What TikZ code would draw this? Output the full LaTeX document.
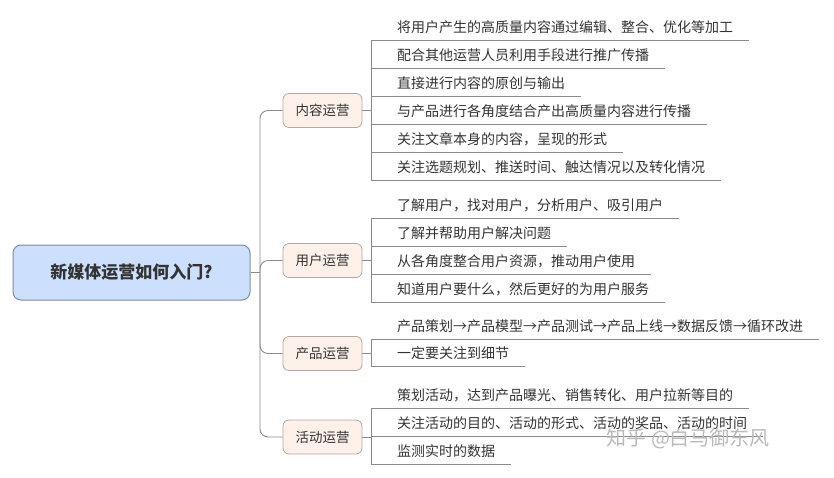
\documentclass[tikz,border=0pt]{standalone}
\usepackage{fontspec}
\setmainfont{Noto Sans CJK SC}
\usetikzlibrary{positioning, calc}
\definecolor{mmroot}{HTML}{CCDFFD}
\definecolor{mmrootline}{HTML}{7D8CA3}
\definecolor{mmbranch}{HTML}{FDF1EA}
\definecolor{mmbranchline}{HTML}{B0A8A2}
\definecolor{mmline}{HTML}{8A8A8A}
\definecolor{mmtext}{HTML}{333333}

\begin{document}
\begin{tikzpicture}[x=1pt, y=-1pt,
  every node/.style={text=mmtext},
  rootbox/.style={rectangle, rounded corners=8pt, draw=mmrootline, fill=mmroot, line width=1pt, minimum width=237pt, minimum height=55pt, font=\fontsize{17}{20}\selectfont\bfseries},
  branchbox/.style={rectangle, rounded corners=6pt, draw=mmbranchline, fill=mmbranch, line width=0.8pt, minimum width=79pt, minimum height=34pt, font=\fontsize{13.5}{16}\selectfont},
  leaf/.style={anchor=west, inner sep=0pt, font=\fontsize{14}{16}\selectfont},
  link/.style={draw=mmline, line width=0.9pt},
]
\useasboundingbox (0,0) rectangle (834,477);

% Root
\node[rootbox] (root) at (131.5,272.5) {新媒体运营如何入门?};
\coordinate (trunk) at (260,272.5);

% Branches
\node[branchbox] (content) at (322.5,110.5) {内容运营};
\node[branchbox] (user) at (322.5,260.5) {用户运营};
\node[branchbox] (product) at (322.5,353.5) {产品运营};
\node[branchbox] (activity) at (322.5,437) {活动运营};

\draw[link] (root.east) -- (trunk);
\foreach \b in {content, user, product, activity}
  \draw[link, rounded corners=8pt] (trunk) |- (\b.west);

% Leaves: name / y / text
\foreach \n/\y/\t in {
  c1/27/将用户产生的高质量内容通过编辑、整合、优化等加工,
  c2/55/配合其他运营人员利用手段进行推广传播,
  c3/83/直接进行内容的原创与输出,
  c4/111/与产品进行各角度结合产出高质量内容进行传播,
  c5/139/关注文章本身的内容，呈现的形式,
  c6/167/关注选题规划、推送时间、触达情况以及转化情况,
  u1/205/了解用户，找对用户，分析用户、吸引用户,
  u2/233/了解并帮助用户解决问题,
  u3/261/从各角度整合用户资源，推动用户使用,
  u4/289/知道用户要什么，然后更好的为用户服务,
  p1/326/产品策划→产品模型→产品测试→产品上线→数据反馈→循环改进,
  p2/353/一定要关注到细节,
  a1/395/策划活动，达到产品曝光、销售转化、用户拉新等目的,
  a2/423/关注活动的目的、活动的形式、活动的奖品、活动的时间,
  a3/451/监测实时的数据}
{
  \node[leaf] (\n) at (397,\y) {\t};
  \coordinate (\n-s) at (371,\y+13);
  \path (\n.east) ++(16,0) coordinate (\n-e);
  \draw[link] (\n-s) -- (\n-e |- \n-s);
}

% Hubs
\draw[link] (content.east) -- (content.east -| c1-s);
\draw[link] (c1-s) -- (c6-s);
\draw[link] (user.east) -- (user.east -| u1-s);
\draw[link] (u1-s) -- (u4-s);
\draw[link] (product.east) -- (product.east -| p1-s);
\draw[link] (p1-s) -- (p2-s);
\draw[link] (activity.east) -- (activity.east -| a1-s);
\draw[link] (a1-s) -- (a3-s);

% Watermark
\node[text=gray!55, font=\fontsize{20}{24}\selectfont, anchor=west] (mark) at (603,439) {知乎 @白马御东风};
\end{tikzpicture}
\end{document}
